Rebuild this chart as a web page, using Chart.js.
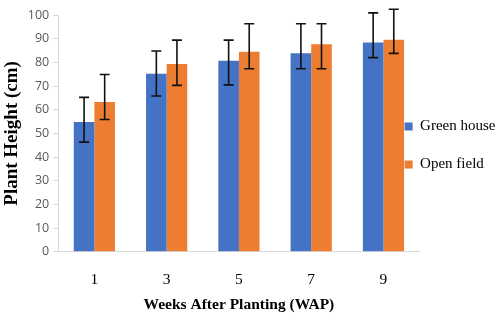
<!DOCTYPE html>
<html>
<head>
<meta charset="utf-8">
<script src="https://cdn.jsdelivr.net/npm/chart.js@4.4.1/dist/chart.umd.min.js"></script>
<style>
  html, body { margin: 0; padding: 0; background: #fff; }
  #wrap { width: 497px; height: 326px; }
</style>
</head>
<body>
<div id="wrap"><canvas id="chart"></canvas></div>
<script>
const WEEKS = ['1', '3', '5', '7', '9'];
const Y_TICKS = [0, 10, 20, 30, 40, 50, 60, 70, 80, 90, 100];

const greenHouse = [54.8, 75.2, 80.7, 83.8, 88.4];
const greenHouseUp = [65.2, 84.8, 89.4, 96.3, 100.9];
const greenHouseDown = [46.3, 65.8, 70.5, 77.3, 82.0];

const openField = [63.3, 79.3, 84.5, 87.7, 89.5];
const openFieldUp = [74.9, 89.4, 96.3, 96.3, 102.4];
const openFieldDown = [55.9, 70.3, 77.3, 77.3, 83.8];

// error bars are drawn on top of the bars, from the up/down arrays
const errorBars = {
  id: 'errorBars',
  afterDatasetsDraw(chart) {
    const ctx = chart.ctx;
    const y = chart.scales.y;
    ctx.save();
    ctx.strokeStyle = '#111';
    ctx.lineWidth = 1.6;
    chart.data.datasets.forEach((ds, di) => {
      chart.getDatasetMeta(di).data.forEach((bar, i) => {
        const top = y.getPixelForValue(ds.errUp[i]);
        const bot = y.getPixelForValue(ds.errDown[i]);
        const x = bar.x;
        ctx.beginPath();
        ctx.moveTo(x, top); ctx.lineTo(x, bot);
        ctx.moveTo(x - 5, top); ctx.lineTo(x + 5, top);
        ctx.moveTo(x - 5, bot); ctx.lineTo(x + 5, bot);
        ctx.stroke();
      });
    });
    ctx.restore();
  }
};

// legend in the reference sits a bit over the plot's right edge
const legendNudge = {
  id: 'legendNudge',
  afterLayout(chart) {
    const l = chart.legend;
    const dx = (chart.chartArea.right - 15) - (l.left + l.options.labels.padding);
    l.left += dx; l.right += dx;
    l.top -= 25; l.bottom -= 25;
  }
};

const serif = "'Liberation Serif', 'Times New Roman', serif";

new Chart(document.getElementById('chart').getContext('2d'), {
  type: 'bar',
  data: {
    labels: WEEKS,
    datasets: [
      { label: 'Green house', data: greenHouse, errUp: greenHouseUp, errDown: greenHouseDown,
        backgroundColor: '#4472C4', categoryPercentage: 0.57, barPercentage: 1 },
      { label: 'Open field', data: openField, errUp: openFieldUp, errDown: openFieldDown,
        backgroundColor: '#ED7D31', categoryPercentage: 0.57, barPercentage: 1 }
    ]
  },
  options: {
    responsive: true,
    maintainAspectRatio: false,
    animation: false,
    layout: { padding: { top: 15, left: 1, right: -46.5, bottom: 0 } },
    scales: {
      y: {
        min: 0, max: 100,
        afterBuildTicks: (s) => { s.ticks = Y_TICKS.map(v => ({ value: v })); },
        grid: { drawOnChartArea: false, drawTicks: true, tickLength: 5, color: '#d9d9d9' },
        border: { color: '#d9d9d9' },
        ticks: { color: '#595959', padding: 4, font: { family: "'Open Sans', sans-serif", size: 12.5 } },
        title: { display: true, text: 'Plant Height (cm)', color: '#000',
          font: { family: serif, size: 19, weight: 'bold' }, padding: 0 }
      },
      x: {
        grid: { display: false, drawTicks: false },
        border: { display: true, color: '#d9d9d9' },
        ticks: { color: '#000', padding: 19, font: { family: serif, size: 15.5 } },
        title: { display: true, text: 'Weeks After Planting (WAP)', color: '#000',
          font: { family: serif, size: 15.5, weight: 'bold' }, padding: { top: -13, bottom: 12 } }
      }
    },
    plugins: {
      legend: {
        position: 'right',
        labels: { color: '#000', boxWidth: 8, boxHeight: 8, padding: 23,
          font: { family: serif, size: 15 } }
      },
      tooltip: { enabled: false }
    }
  },
  plugins: [errorBars, legendNudge]
});
</script>
</body>
</html>
